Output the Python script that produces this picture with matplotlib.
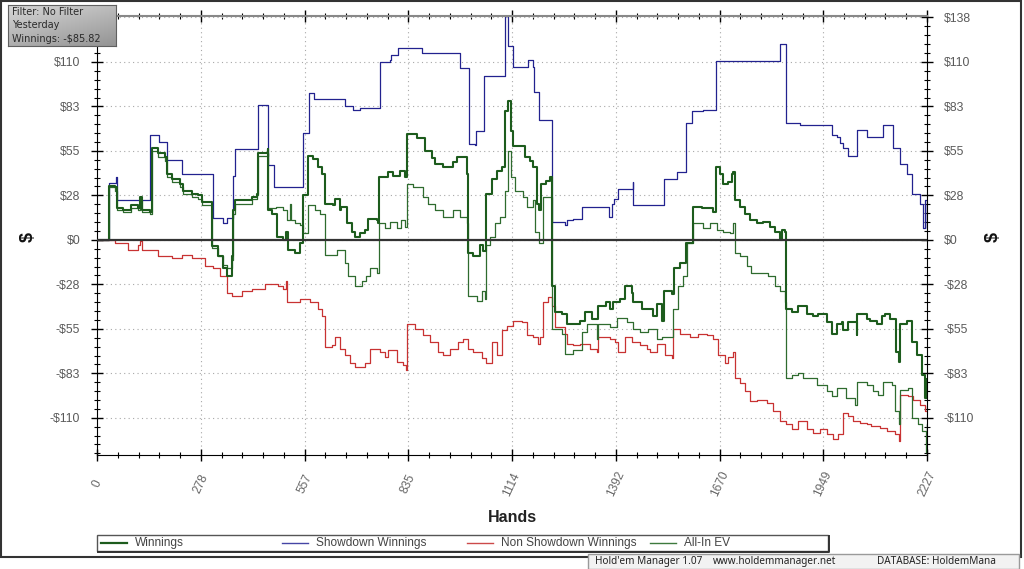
import numpy as np
import matplotlib.pyplot as plt
from matplotlib.patches import Rectangle
from matplotlib.lines import Line2D
from matplotlib.ticker import MultipleLocator

# Winnings (thick green)
win_hands = [
    0, 32, 48, 55, 70, 90, 110, 115, 120, 142,
    147, 164, 182, 187, 200, 223, 232, 254, 272, 281,
    308, 309, 326, 339, 348, 361, 366, 370, 415, 428,
    433, 458, 460, 469, 482, 500, 506, 513, 531, 545,
    554, 567, 580, 594, 603, 612, 634, 638, 652, 656,
    670, 683, 692, 706, 719, 728, 750, 755, 757, 782,
    795, 813, 826, 831, 858, 880, 898, 907, 929, 956,
    965, 992, 996, 1010, 1028, 1036, 1044, 1059, 1072, 1086,
    1095, 1104, 1112, 1117, 1148, 1162, 1171, 1180, 1187, 1190,
    1206, 1215, 1220, 1229, 1247, 1260, 1296, 1309, 1327, 1345,
    1367, 1376, 1385, 1403, 1417, 1435, 1439, 1461, 1493, 1502,
    1515, 1521, 1542, 1548, 1564, 1580, 1598, 1622, 1654, 1661,
    1671, 1680, 1694, 1703, 1707, 1712, 1725, 1739, 1752, 1770,
    1788, 1806, 1819, 1832, 1837, 1846, 1849, 1864, 1882, 1904,
    1922, 1935, 1958, 1971, 1985, 1998, 2002, 2016, 2038, 2040,
    2065, 2074, 2092, 2105, 2114, 2128, 2145, 2153, 2154, 2172,
    2186, 2199, 2213, 2221, 2226, 2227]
win_vals = [
    0, 33.6, 32.6, 20, 18.3, 21.4, 19.4, 26.5, 18.3, 17.3,
    57, 54, 51, 40.7, 37.7, 34.6, 30.5, 28.5, 27.5, 23.4,
    21.4, -4, -10.2, -17.3, -22.4, -10.2, 18.3, 24.4, 26.5, 28.5,
    54, 56, 18.3, 16.3, 2, 0, 5.1, -6.1, -8.1, -2,
    28, 52, 49.9, 44.8, 40.7, 22.4, 21.4, 25.5, 18.3, 20.4,
    10.2, 5.1, 2, 4.1, 6.1, 13.2, 12.2, 10.2, 38.7, 41.8,
    39.7, 42.8, 38.7, 65.6, 63.1, 55, 50.9, 46.8, 44.8, 47.9,
    51, 40.7, -8.1, -10.2, -3.1, -7.1, 28.5, 37.7, 42.8, 44.8,
    79.4, 85.6, 67, 58, 51, 49, 44.8, 22.4, 18.3, 34.6,
    36.7, 38.7, -28.5, -44.8, -45.8, -52, -50, -44.8, -48.9, -40.7,
    -38.7, -42.8, -38.7, -36.7, -28.5, -32.6, -38.7, -42.8, -46.8, -39.7,
    -50, -31.6, -33.6, -17.3, -14.3, -2, 20.4, 19.4, 17.3, 44.8,
    40.7, 34.6, 35.6, 40.7, 41.8, 24.4, 20.4, 16.3, 12.2, 10.2,
    11.2, 8.1, 5.1, 0, 6.1, 5.1, -42.8, -44.8, -40.7, -45.8,
    -46.8, -45.8, -51, -58, -52, -51, -56, -51, -59, -45.8,
    -48.9, -50, -52, -46.8, -45.8, -48.9, -69.3, -75.4, -52, -50,
    -63.1, -71.3, -83.5, -97.8, -85.8, -85.8]

# All-In EV (thin green)
ev_hands = [
    0, 32, 48, 55, 70, 90, 110, 115, 120, 142,
    147, 164, 182, 187, 200, 223, 232, 254, 272, 281,
    308, 309, 326, 339, 348, 361, 366, 370, 415, 428,
    433, 458, 460, 480, 500, 510, 518, 520, 531, 545,
    554, 567, 585, 598, 612, 643, 665, 674, 692, 710,
    723, 732, 750, 757, 773, 786, 804, 817, 826, 831,
    849, 876, 889, 907, 929, 956, 974, 992, 996, 1019,
    1032, 1041, 1044, 1054, 1068, 1081, 1095, 1104, 1110, 1121,
    1144, 1153, 1171, 1175, 1187, 1198, 1215, 1220, 1247, 1256,
    1278, 1300, 1314, 1342, 1343, 1376, 1394, 1421, 1437, 1457,
    1479, 1502, 1515, 1545, 1560, 1573, 1582, 1600, 1627, 1645,
    1663, 1680, 1698, 1706, 1712, 1725, 1743, 1756, 1801, 1819,
    1832, 1846, 1849, 1864, 1882, 1895, 1931, 1958, 1971, 1985,
    2011, 2034, 2040, 2065, 2083, 2096, 2110, 2132, 2141, 2152,
    2154, 2177, 2186, 2204, 2213, 2224, 2226, 2227]
ev_vals = [
    0, 32.6, 30.5, 18.3, 17.3, 19.4, 18.3, 24.4, 17.3, 16.3,
    55, 51, 49, 38.7, 35.6, 32.6, 28.5, 26.5, 25.5, 21.4,
    19.4, -5.1, -10.2, -15.3, -17.3, -12.2, 16.3, 22.4, 25.5, 27.5,
    52, 54, 20, 20.4, 18.3, 12.2, 22.4, 12.2, 10.2, 9.2,
    4, 21.4, 18.3, 16.3, -9.2, -6.1, -14.3, -22.4, -28.5, -25.5,
    -22.4, -17.3, -20.4, 10.2, 7.1, 11.2, 7.1, 12.2, 8.1, 34.6,
    32.6, 26.5, 22.4, 18.3, 14.3, 18.3, 14.3, 10.2, -34.6, -37.7,
    -31.6, -36.7, -3.1, 2, 10.2, 14.3, 30.5, 55, 38.7, 30.5,
    26.5, 20.4, 24.4, 5.1, -2, 26.5, 26.5, -55, -58, -70.3,
    -68, -57, -52, -61, -52, -54, -48, -51, -55, -57,
    -55, -61, -60, -42.8, -28.5, -22.4, -2, 10.2, 7.1, 10.2,
    6.1, 5.1, 4.1, 10.2, -8.1, -10.2, -16.3, -20.4, -22.4, -28.5,
    -31.6, -38.7, -85.6, -83.5, -82.5, -85.6, -89.6, -93.7, -96.8, -91.7,
    -97.8, -101.9, -87.6, -89.6, -93.7, -95.7, -87.6, -89.6, -106, -114,
    -92.7, -91.7, -110, -114, -118, -131, -114, -133]

# Showdown Winnings (blue)
sd_hands = [
    0, 32, 32, 50, 55, 142, 166, 187, 227, 310,
    337, 350, 364, 370, 433, 460, 476, 552, 569, 581,
    665, 688, 706, 758, 786, 790, 808, 871, 974, 997,
    1014, 1017, 1039, 1095, 1104, 1117, 1157, 1169, 1172, 1187,
    1220, 1256, 1260, 1278, 1300, 1375, 1381, 1387, 1399, 1437,
    1438, 1520, 1555, 1580, 1596, 1627, 1661, 1833, 1849, 1886,
    1967, 1971, 1985, 1993, 2002, 2016, 2040, 2065, 2110, 2136,
    2154, 2172, 2188, 2208, 2217, 2221, 2226, 2227]
sd_vals = [
    0, 0, 35, 38.7, 24.4, 64.6, 60.7, 49.5, 40.7, 13.6,
    10.2, 13.6, 39.3, 56.4, 83.1, 46.2, 32.6, 66.2, 90.6, 87.2,
    82.5, 80.5, 81.5, 110, 111, 114, 118.6, 115.7, 106, 59,
    58.5, 67, 101.4, 138.2, 120, 107, 111, 107, 91.6, 74.4,
    11.2, 9.2, 12.2, 13.2, 20.4, 14.3, 22.4, 25.5, 31.6, 35.6,
    21.4, 37.7, 41.8, 72.3, 79.4, 80.5, 110.4, 121.2, 72.3, 71.3,
    70.9, 65, 63.6, 59.7, 57, 52, 68.2, 63.6, 70.9, 57,
    46.8, 40.7, 28.5, 22.4, 7.1, 24.4, 7.1, 22.4]

# Non Showdown Winnings (red)
nsd_hands = [
    0, 48, 84, 111, 115, 120, 147, 164, 200, 227,
    254, 290, 312, 330, 348, 361, 388, 415, 451, 486,
    500, 506, 509, 545, 571, 594, 603, 612, 630, 638,
    652, 665, 679, 692, 719, 732, 759, 773, 782, 804,
    822, 829, 831, 853, 875, 893, 916, 929, 947, 969,
    983, 996, 1010, 1032, 1045, 1059, 1072, 1086, 1099, 1117,
    1139, 1153, 1171, 1184, 1189, 1198, 1211, 1220, 1229, 1256,
    1260, 1278, 1296, 1323, 1342, 1345, 1376, 1390, 1399, 1417,
    1435, 1457, 1475, 1484, 1502, 1524, 1542, 1546, 1564, 1591,
    1613, 1636, 1654, 1667, 1685, 1694, 1706, 1712, 1725, 1739,
    1752, 1770, 1797, 1815, 1832, 1850, 1864, 1882, 1904, 1922,
    1940, 1958, 1976, 1989, 2002, 2016, 2029, 2047, 2065, 2078,
    2101, 2119, 2141, 2152, 2154, 2177, 2190, 2208, 2221, 2227]
nsd_vals = [
    0, -2, -6.1, -3.1, -1, -6.1, -6.1, -10.2, -11.2, -9.2,
    -11.2, -16.3, -17.3, -22.4, -32.6, -34.6, -31.6, -30.5, -27.5, -28.5,
    -30.5, -25.5, -38.7, -36.7, -38.7, -42.8, -46.8, -66.2, -65.2, -60.1,
    -67.2, -71.3, -76.4, -78.4, -76.4, -67.2, -69.3, -72.3, -68.2, -75.4,
    -77.4, -80.5, -52, -55, -59, -63.1, -69.3, -71.3, -67.2, -63.1,
    -61.1, -67.2, -69.3, -73.3, -76.4, -63.1, -71.3, -56, -53, -50,
    -51, -59, -60.1, -64.2, -60.1, -38.7, -35.6, -40.7, -54, -58,
    -64.2, -65.2, -64.2, -67.2, -69.3, -60.1, -61.1, -63.1, -69.3, -60.1,
    -63.1, -65.2, -67.2, -69.3, -64.2, -71.3, -73.3, -55, -58, -60.1,
    -58, -59, -61.1, -71.3, -76.4, -72.3, -69.3, -85.6, -88.6, -93.7,
    -99.8, -98.8, -100.8, -106, -112, -114, -117.1, -112, -117.1, -119.2,
    -117.1, -120.2, -123.2, -120.2, -107, -109.1, -112, -113, -114, -115.1,
    -116.1, -118.2, -120.2, -124.3, -95.7, -96.8, -98.8, -101.9, -106, -103]

x_labels = ['0', '278', '557', '835', '1114', '1392', '1670', '1949', '2227']
y_ticks = [-110, -82.5, -55, -27.5, 0, 27.5, 55, 82.5, 110, 137.5]
y_labels = ['-$110', '-$83', '-$55', '-$28', '$0', '$28', '$55', '$83', '$110', '$138']
legend_names = ['Winnings', 'Showdown Winnings', 'Non Showdown Winnings', 'All-In EV']

FONT = ['Liberation Sans', 'DejaVu Sans']
W, H = 1024, 569


def fx(px):
    return px / W


def fy(py):
    return 1 - py / H


fig = plt.figure(figsize=(W / 100, H / 100), dpi=100)
ax = fig.add_axes([fx(97), fy(455), fx(927) - fx(97), fy(16) - fy(455)])

c_win, c_ev, c_sd, c_nsd = '#1d5c1d', '#2e6b2e', '#22228f', '#c83232'
ax.step(sd_hands, sd_vals, where='post', color=c_sd, lw=0.9, zorder=2)
ax.step(nsd_hands, nsd_vals, where='post', color=c_nsd, lw=0.9, zorder=2)
ax.step(ev_hands, ev_vals, where='post', color=c_ev, lw=0.9, zorder=2)
ax.step(win_hands, win_vals, where='post', color=c_win, lw=1.5, zorder=2)
ax.axhline(0, color='#333333', lw=1.6, zorder=3)

ax.set_xlim(0, 2227)
ax.set_ylim(-133, 138.4)
x_ticks = [i * 2227 / 8 for i in range(9)]
ax.set_xticks(x_ticks, x_labels, rotation=65, ha='center', va='center',
              family=FONT, fontsize=8.6, color='#666666')
ax.set_yticks(y_ticks, [s.replace('$', r'\$') for s in y_labels],
              family=FONT, fontsize=8.8, color='#5a5a5a')
ax.xaxis.set_minor_locator(MultipleLocator(2227 / 40))
ax.yaxis.set_minor_locator(MultipleLocator(5.5))
ax.tick_params(which='major', direction='inout', length=8, width=1, color='k',
               top=True, right=True, labelright=True)
ax.tick_params(which='minor', direction='inout', length=5, width=0.8, color='k',
               top=True, right=True)
ax.tick_params(axis='x', pad=17)
ax.tick_params(axis='y', pad=8)
for t in ax.xaxis.get_major_ticks() + ax.xaxis.get_minor_ticks():
    t.tick2line.set_color('#888888')
# the top-left label sits under the filter box in the original
ax.yaxis.get_major_ticks()[-1].label1.set_visible(False)
ax.grid(True, which='major', ls=(0, (1, 3)), color='#a8a8a8', lw=0.8)
for s in ['left', 'right', 'bottom']:
    ax.spines[s].set_color('k')
ax.spines['top'].set_color('#888888')
ax.spines['top'].set_linewidth(1.5)

fig.text(fx(512), fy(517), 'Hands', ha='center', va='center', fontsize=11.5,
         fontweight='bold', family=FONT, color='#222222')
for xp in (28, 993):
    fig.text(fx(xp), fy(237), r'\$', ha='center', va='center', rotation=90,
             fontsize=13, fontweight='bold', family=FONT, color='#111111')

# legend strip
fig.add_artist(Rectangle((fx(97), fy(551)), fx(828) - fx(97), fy(535) - fy(551),
                         transform=fig.transFigure, facecolor='white',
                         edgecolor='#555555', lw=1))
fig.add_artist(Line2D([fx(98), fx(829), fx(829)], [fy(552), fy(552), fy(536)],
                      transform=fig.transFigure, color='#333333', lw=1.4))
leg_colors = [c_win, '#4545a5', '#cc4a4a', '#3d7a3d']
leg_widths = [1.6, 1.0, 1.0, 1.0]
leg_x = [101, 282, 467, 650]
for name, col, lw, x0 in zip(legend_names, leg_colors, leg_widths, leg_x):
    fig.add_artist(Line2D([fx(x0), fx(x0 + 26)], [fy(543), fy(543)],
                          transform=fig.transFigure, color=col, lw=lw))
    fig.text(fx(x0 + 34), fy(543), name, ha='left', va='center', fontsize=8.6,
             family=FONT, color='#444444')

# outer frame
fig.add_artist(Rectangle((fx(1), fy(557)), fx(1021) - fx(1), fy(1) - fy(557),
                         transform=fig.transFigure, fill=False,
                         edgecolor='#333333', lw=1.5))

# status bar
fig.add_artist(Rectangle((fx(588), fy(569)), fx(1019) - fx(588), fy(554) - fy(569),
                         transform=fig.transFigure, facecolor='#f2f2f2',
                         edgecolor='#9a9a9a', lw=1, zorder=5))
for txt, xp in [("Hold'em Manager 1.07", 595), ('www.holdemmanager.net', 713),
                ('DATABASE: HoldemMana', 877)]:
    fig.text(fx(xp), fy(561.5), txt, ha='left', va='center', fontsize=7.2,
             family=['Noto Sans', 'DejaVu Sans'], color='#222222', zorder=6)

# filter box in the corner
bax = fig.add_axes([fx(8), fy(46), fx(116) - fx(8), fy(5) - fy(46)])
gy = np.linspace(0, 1, 40)[:, None]
gx = np.linspace(0, 1, 100)[None, :]
shade = 0.84 - 0.16 * gy - 0.10 * gx
bax.imshow(np.dstack([shade] * 3), aspect='auto', extent=(0, 1, 0, 1), origin='upper')
bax.set_xticks([])
bax.set_yticks([])
for s in bax.spines.values():
    s.set_color('#606060')
for i, line in enumerate(['Filter: No Filter', 'Yesterday', 'Winnings: -\\$85.82']):
    bax.text(0.04, 0.82 - i * 0.32, line, transform=bax.transAxes, ha='left',
             va='center', fontsize=7, family='DejaVu Sans', color='#2a2a2a')

fig.savefig('out.png', dpi=100)
